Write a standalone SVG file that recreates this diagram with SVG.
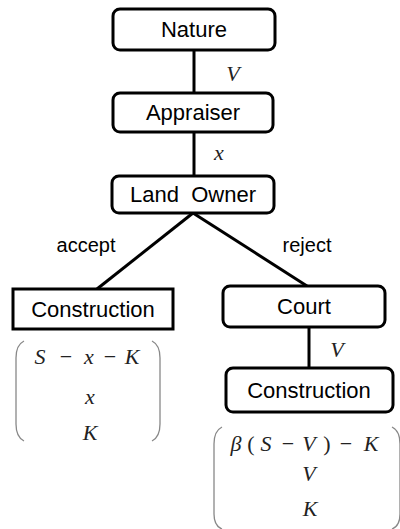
<svg xmlns="http://www.w3.org/2000/svg" width="400" height="529" viewBox="0 0 400 529">
<style>
.box{fill:#fff;stroke:#000;stroke-width:3}
.lbl{font-family:"Liberation Sans",Arial,sans-serif;font-size:22px;fill:#000;text-anchor:middle}
.edge{stroke:#000;stroke-width:3;fill:none}
.m{font-family:"Liberation Serif","Times New Roman",serif;font-style:italic;font-size:22px;fill:#222;text-anchor:middle}
.mo{font-family:"Liberation Serif","Times New Roman",serif;font-style:normal;font-size:22px;fill:#222;text-anchor:middle}
.paren{stroke:#888;stroke-width:1.3;fill:none}
</style>
<rect width="400" height="529" fill="#fff"/>
<g id="connectors">
<line class="edge" x1="194" y1="50" x2="194" y2="93"/>
<line class="edge" x1="194" y1="132" x2="194" y2="176"/>
<line class="edge" x1="193" y1="213" x2="97" y2="289"/>
<line class="edge" x1="193" y1="213" x2="307" y2="286"/>
<line class="edge" x1="309" y1="327" x2="309" y2="368"/>
<text class="m" x="233" y="81">V</text>
<text class="m" x="219" y="160">x</text>
<text class="lbl" x="86" y="252" style="font-size:20px">accept</text>
<text class="lbl" x="307" y="252" style="font-size:20px">reject</text>
<text class="m" x="337" y="357">V</text>
</g>
<g id="nature">
<rect class="box" x="113" y="9" width="162" height="41" rx="7"/>
<text class="lbl" x="194" y="37">Nature</text>
</g>
<g id="appraiser">
<rect class="box" x="113" y="93" width="160" height="39" rx="7"/>
<text class="lbl" x="193" y="120">Appraiser</text>
</g>
<g id="landowner">
<rect class="box" x="112" y="176" width="162" height="37" rx="7"/>
<text class="lbl" x="193" y="202" xml:space="preserve">Land  Owner</text>
</g>
<g id="construction-accept">
<rect class="box" x="13" y="289" width="160" height="40" rx="0"/>
<text class="lbl" x="93" y="317">Construction</text>
</g>
<g id="payoff-accept">
<path class="paren" d="M24,341 Q16,345 16,358 L16,424 Q16,437 24,441"/>
<path class="paren" d="M152,341 Q160,345 160,358 L160,424 Q160,437 152,441"/>
<text class="m" x="40" y="364">S</text>
<text class="mo" x="66" y="364">−</text>
<text class="m" x="89" y="364">x</text>
<text class="mo" x="110" y="364">−</text>
<text class="m" x="132" y="364">K</text>
<text class="m" x="90" y="404">x</text>
<text class="m" x="90" y="440">K</text>
</g>
<g id="court">
<rect class="box" x="223" y="286" width="162" height="41" rx="7"/>
<text class="lbl" x="304" y="314">Court</text>
</g>
<g id="construction-reject">
<rect class="box" x="226" y="368" width="167" height="44" rx="7"/>
<text class="lbl" x="309" y="398">Construction</text>
</g>
<g id="payoff-reject">
<path class="paren" d="M222,427 Q214,431 214,444 L214,514 Q214,526 222,529"/>
<path class="paren" d="M392,427 Q400,431 400,444 L400,514 Q400,526 392,529"/>
<text class="m" x="236" y="451">β</text>
<text class="mo" x="251" y="451">(</text>
<text class="m" x="266" y="451">S</text>
<text class="mo" x="288" y="451">−</text>
<text class="m" x="309" y="451">V</text>
<text class="mo" x="327" y="451">)</text>
<text class="mo" x="346" y="451">−</text>
<text class="m" x="371" y="451">K</text>
<text class="m" x="309" y="481">V</text>
<text class="m" x="310" y="516">K</text>
</g>
</svg>
